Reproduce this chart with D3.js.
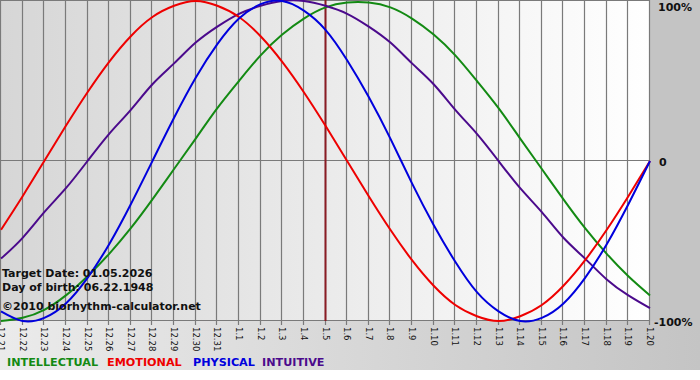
<!DOCTYPE html>
<html>
<head>
<meta charset="utf-8">
<script src="https://d3js.org/d3.v7.min.js"></script>
<style>
  html, body { margin: 0; padding: 0; background: #fff; }
  svg { display: block; }
  text { font-family: Verdana, "DejaVu Sans", sans-serif; }
</style>
</head>
<body>
<svg width="700" height="380"></svg>
<script>
// day labels (month.day)
var days = ["12.21","12.22","12.23","12.24","12.25","12.26","12.27","12.28","12.29","12.30","12.31",
  "1.1","1.2","1.3","1.4","1.5","1.6","1.7","1.8","1.9","1.10","1.11","1.12","1.13","1.14","1.15",
  "1.16","1.17","1.18","1.19","1.20"];

// values, -1 .. 1
var intellectual = [-1.00,-0.98,-0.93,-0.84,-0.72,-0.58,-0.42,-0.24,-0.05,0.14,0.33,0.50,0.66,0.79,0.89,0.96,
  0.99,0.99,0.96,0.89,0.79,0.66,0.50,0.33,0.14,-0.05,-0.24,-0.42,-0.58,-0.72,-0.84];
var emotional = [-0.43,-0.22,0.00,0.22,0.43,0.62,0.78,0.90,0.97,1.00,0.97,0.90,0.78,0.62,0.43,0.22,
  0.00,-0.22,-0.43,-0.62,-0.78,-0.90,-0.97,-1.00,-0.97,-0.90,-0.78,-0.62,-0.43,-0.22,0.00];
var physical = [-0.94,-1.00,-0.98,-0.89,-0.73,-0.52,-0.27,0.00,0.27,0.52,0.73,0.89,0.98,1.00,0.94,0.82,
  0.63,0.40,0.14,-0.14,-0.40,-0.63,-0.82,-0.94,-1.00,-0.98,-0.89,-0.73,-0.52,-0.27,0.00];
var intuitive = [-0.61,-0.48,-0.32,-0.17,0.00,0.17,0.32,0.48,0.61,0.74,0.84,0.92,0.97,1.00,1.00,0.97,
  0.92,0.84,0.74,0.61,0.48,0.32,0.17,0.00,-0.17,-0.32,-0.48,-0.61,-0.74,-0.84,-0.92];

var targetDay = "1.5";
var yLabels = [[1, "100%"], [0, "0"], [-1, "-100%"]];
var legend = [["INTELLECTUAL", "#138a13"], ["EMOTIONAL", "#ee0000"], ["PHYSICAL", "#0000dd"], ["INTUITIVE", "#4b0a8c"]];

var svg = d3.select("svg");
var plotL = 1, plotR = 650, plotT = 1, plotB = 321;

var x = d3.scalePoint().domain(days).range([plotL, plotR]);
var y = d3.scaleLinear().domain([-1, 1]).range([plotB, plotT]);

// backgrounds
var defs = svg.append("defs");
var g1 = defs.append("linearGradient").attr("id", "plotbg");
g1.append("stop").attr("offset", "0%").attr("stop-color", "#d6d6d6");
g1.append("stop").attr("offset", "100%").attr("stop-color", "#ffffff");
var g2 = defs.append("linearGradient").attr("id", "outbg");
g2.append("stop").attr("offset", "0%").attr("stop-color", "#ebebeb");
g2.append("stop").attr("offset", "100%").attr("stop-color", "#c4c4c4");

svg.append("rect").attr("x", 0).attr("y", 0).attr("width", 700).attr("height", 370).attr("fill", "url(#outbg)");
svg.append("rect").attr("x", 650).attr("y", 0).attr("width", 50).attr("height", 321).attr("fill", "#c4c4c4");
svg.append("rect").attr("x", 0).attr("y", 0).attr("width", 650).attr("height", 321).attr("fill", "url(#plotbg)");

// grid
svg.append("g").selectAll("line").data(days).enter().append("line")
  .attr("x1", function(d){ return Math.round(x(d)) - 0.5; })
  .attr("x2", function(d){ return Math.round(x(d)) - 0.5; })
  .attr("y1", 0).attr("y2", 325)
  .attr("stroke", "#7a7a7a").attr("stroke-width", 1.2);
[0, 1, -1].forEach(function(v){
  svg.append("line").attr("x1", 0).attr("x2", 650)
    .attr("y1", Math.round(y(v)) - 0.5).attr("y2", Math.round(y(v)) - 0.5)
    .attr("stroke", "#7a7a7a").attr("stroke-width", 1.2);
});

// tick labels, rotated
svg.append("g").selectAll("text").data(days).enter().append("text")
  .attr("transform", function(d){ return "translate(" + (x(d) - 3) + ",327) rotate(90)"; })
  .attr("font-size", "8.5px").attr("fill", "#111")
  .text(function(d){ return d; });

// target day marker
svg.append("line").attr("x1", x(targetDay)).attr("x2", x(targetDay))
  .attr("y1", 0).attr("y2", 321).attr("stroke", "#8a1c24").attr("stroke-width", 2);

// curves
var line = d3.line()
  .x(function(d, i){ return x(days[i]); })
  .y(function(d){ return y(d); })
  .curve(d3.curveNatural);

[[intellectual, legend[0][1]], [intuitive, legend[3][1]], [emotional, legend[1][1]], [physical, legend[2][1]]]
  .forEach(function(s){
    svg.append("path").attr("d", line(s[0])).attr("fill", "none")
      .attr("stroke", s[1]).attr("stroke-width", 2);
  });

// y labels on the right
yLabels.forEach(function(l){
  svg.append("text").attr("x", l[0] < 0 ? 654 : (l[0] > 0 ? 658 : 659))
    .attr("y", y(l[0]) + (l[0] > 0 ? 10 : 5))
    .attr("font-size", "11px").attr("font-weight", "bold").attr("fill", "#111")
    .text(l[1]);
});

// info text
var info = ["Target Date: 01.05.2026", "Day of birth: 06.22.1948", "\u00a92010 biorhythm-calculator.net"];
var infoY = [277, 291, 310];
info.forEach(function(t, i){
  svg.append("text").attr("x", 2).attr("y", infoY[i])
    .attr("font-size", "11px").attr("font-weight", "bold").attr("fill", "#111").text(t);
});

// legend
var legendX = [7, 107, 193, 262];
legend.forEach(function(l, i){
  svg.append("text").attr("x", legendX[i]).attr("y", 366)
    .attr("font-size", "11.2px").attr("font-weight", "bold").attr("fill", l[1]).text(l[0]);
});
</script>
</body>
</html>
